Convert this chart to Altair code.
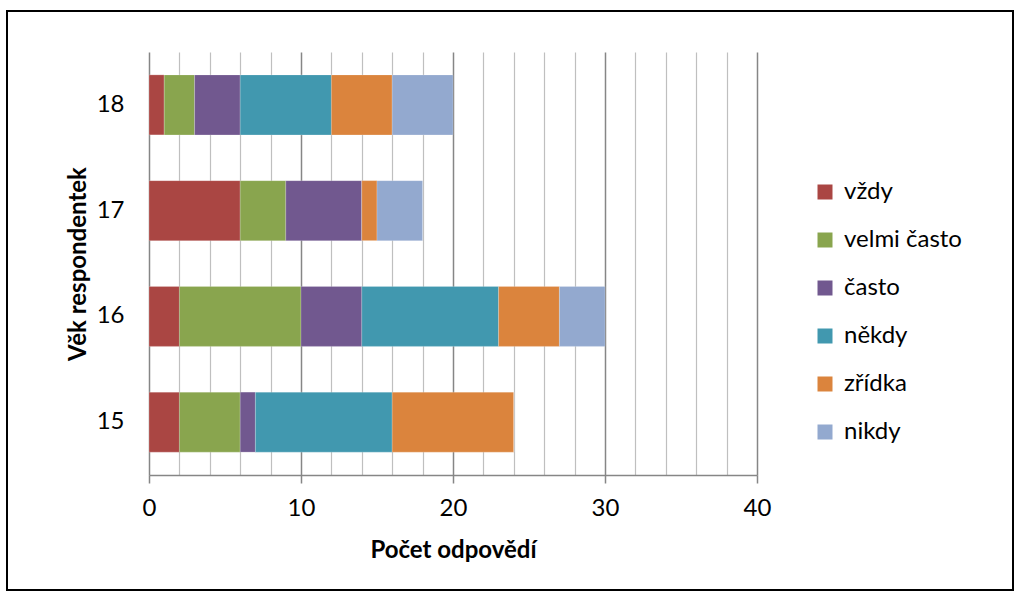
import altair as alt
import pandas as pd

# Response counts per age group, one list per answer category (left to right)
ages = ["15", "16", "17", "18"]
answers = ["vždy", "velmi často", "často", "někdy", "zřídka", "nikdy"]
counts = {
    "vždy":        [2, 2, 6, 1],
    "velmi často": [4, 8, 3, 2],
    "často":       [1, 4, 5, 3],
    "někdy":       [9, 9, 0, 6],
    "zřídka":      [8, 4, 1, 4],
    "nikdy":       [0, 3, 3, 4],
}
colors = ["#AA4643", "#89A54E", "#71588F", "#4198AF", "#DB843D", "#93A9CF"]

rows = []
for k, ans in enumerate(answers):
    for i, age in enumerate(ages):
        rows.append({"vek": age, "odpoved": ans, "pocet": counts[ans][i], "poradi": k})
df = pd.DataFrame(rows)

FONT = "Lato"
FS = 24
W, H = 608, 423
LEFT, TOP = 149, 52

bars = alt.Chart(df).mark_bar(size=60, stroke="#FFFFFF", strokeWidth=0.5, strokeOpacity=0.4).encode(
    x=alt.X(
        "sum(pocet):Q",
        scale=alt.Scale(domain=[0, 40], nice=False),
        axis=alt.Axis(
            values=list(range(0, 41, 2)),
            labelExpr="datum.value % 10 === 0 ? datum.label : ''",
            labelFlush=False,
            title="Počet odpovědí",
            titleFont=FONT, titleFontSize=FS, titleFontWeight="bold", titleColor="#000000",
            titlePadding=18,
            labelFont=FONT, labelFontSize=FS, labelColor="#000000", labelPadding=13,
            domainColor="#868686", domainWidth=1.5,
            tickColor=alt.condition("datum.value % 10 === 0", alt.value("#868686"), alt.value("transparent")),
            tickSize=8, tickWidth=1.5,
            grid=True,
            gridColor=alt.condition("datum.value % 10 === 0", alt.value("#868686"), alt.value("#BFBFBF")),
            gridWidth=alt.condition("datum.value % 10 === 0", alt.value(1.5), alt.value(1.2)),
        ),
    ),
    y=alt.Y(
        "vek:N",
        sort=alt.SortField("vek", order="descending"),
        axis=alt.Axis(
            title="Věk respondentek",
            titleFont=FONT, titleFontSize=FS, titleFontWeight="bold", titleColor="#000000",
            titlePadding=6,
            labelFont=FONT, labelFontSize=FS, labelColor="#000000", labelPadding=25,
            domain=False, ticks=False, grid=False,
        ),
    ),
    color=alt.Color(
        "odpoved:N",
        scale=alt.Scale(domain=answers, range=colors),
        legend=alt.Legend(
            title=None, orient="none", legendX=664, legendY=128,
            symbolType="square", symbolSize=225, symbolStrokeWidth=0,
            labelFont=FONT, labelFontSize=FS, labelColor="#000000",
            rowPadding=24, labelOffset=7,
        ),
    ),
    order=alt.Order("poradi:Q", sort="ascending"),
)

# Outer frame around the whole chart
frame = alt.Chart(df).mark_rect(fill=None, stroke="#000000", strokeWidth=1.5, clip=False).encode(
    x=alt.value(7 - LEFT), x2=alt.value(1013 - LEFT),
    y=alt.value(11 - TOP), y2=alt.value(590 - TOP),
)

chart = alt.layer(bars, frame).properties(
    width=W, height=H,
    autosize=alt.AutoSizeParams(type="none"),
    padding={"left": LEFT, "top": TOP, "right": 1020 - LEFT - W, "bottom": 597 - TOP - H},
    background="#FFFFFF",
).configure_view(stroke=None)

chart.save("out.html", embed_options={"renderer": "svg", "actions": False})
